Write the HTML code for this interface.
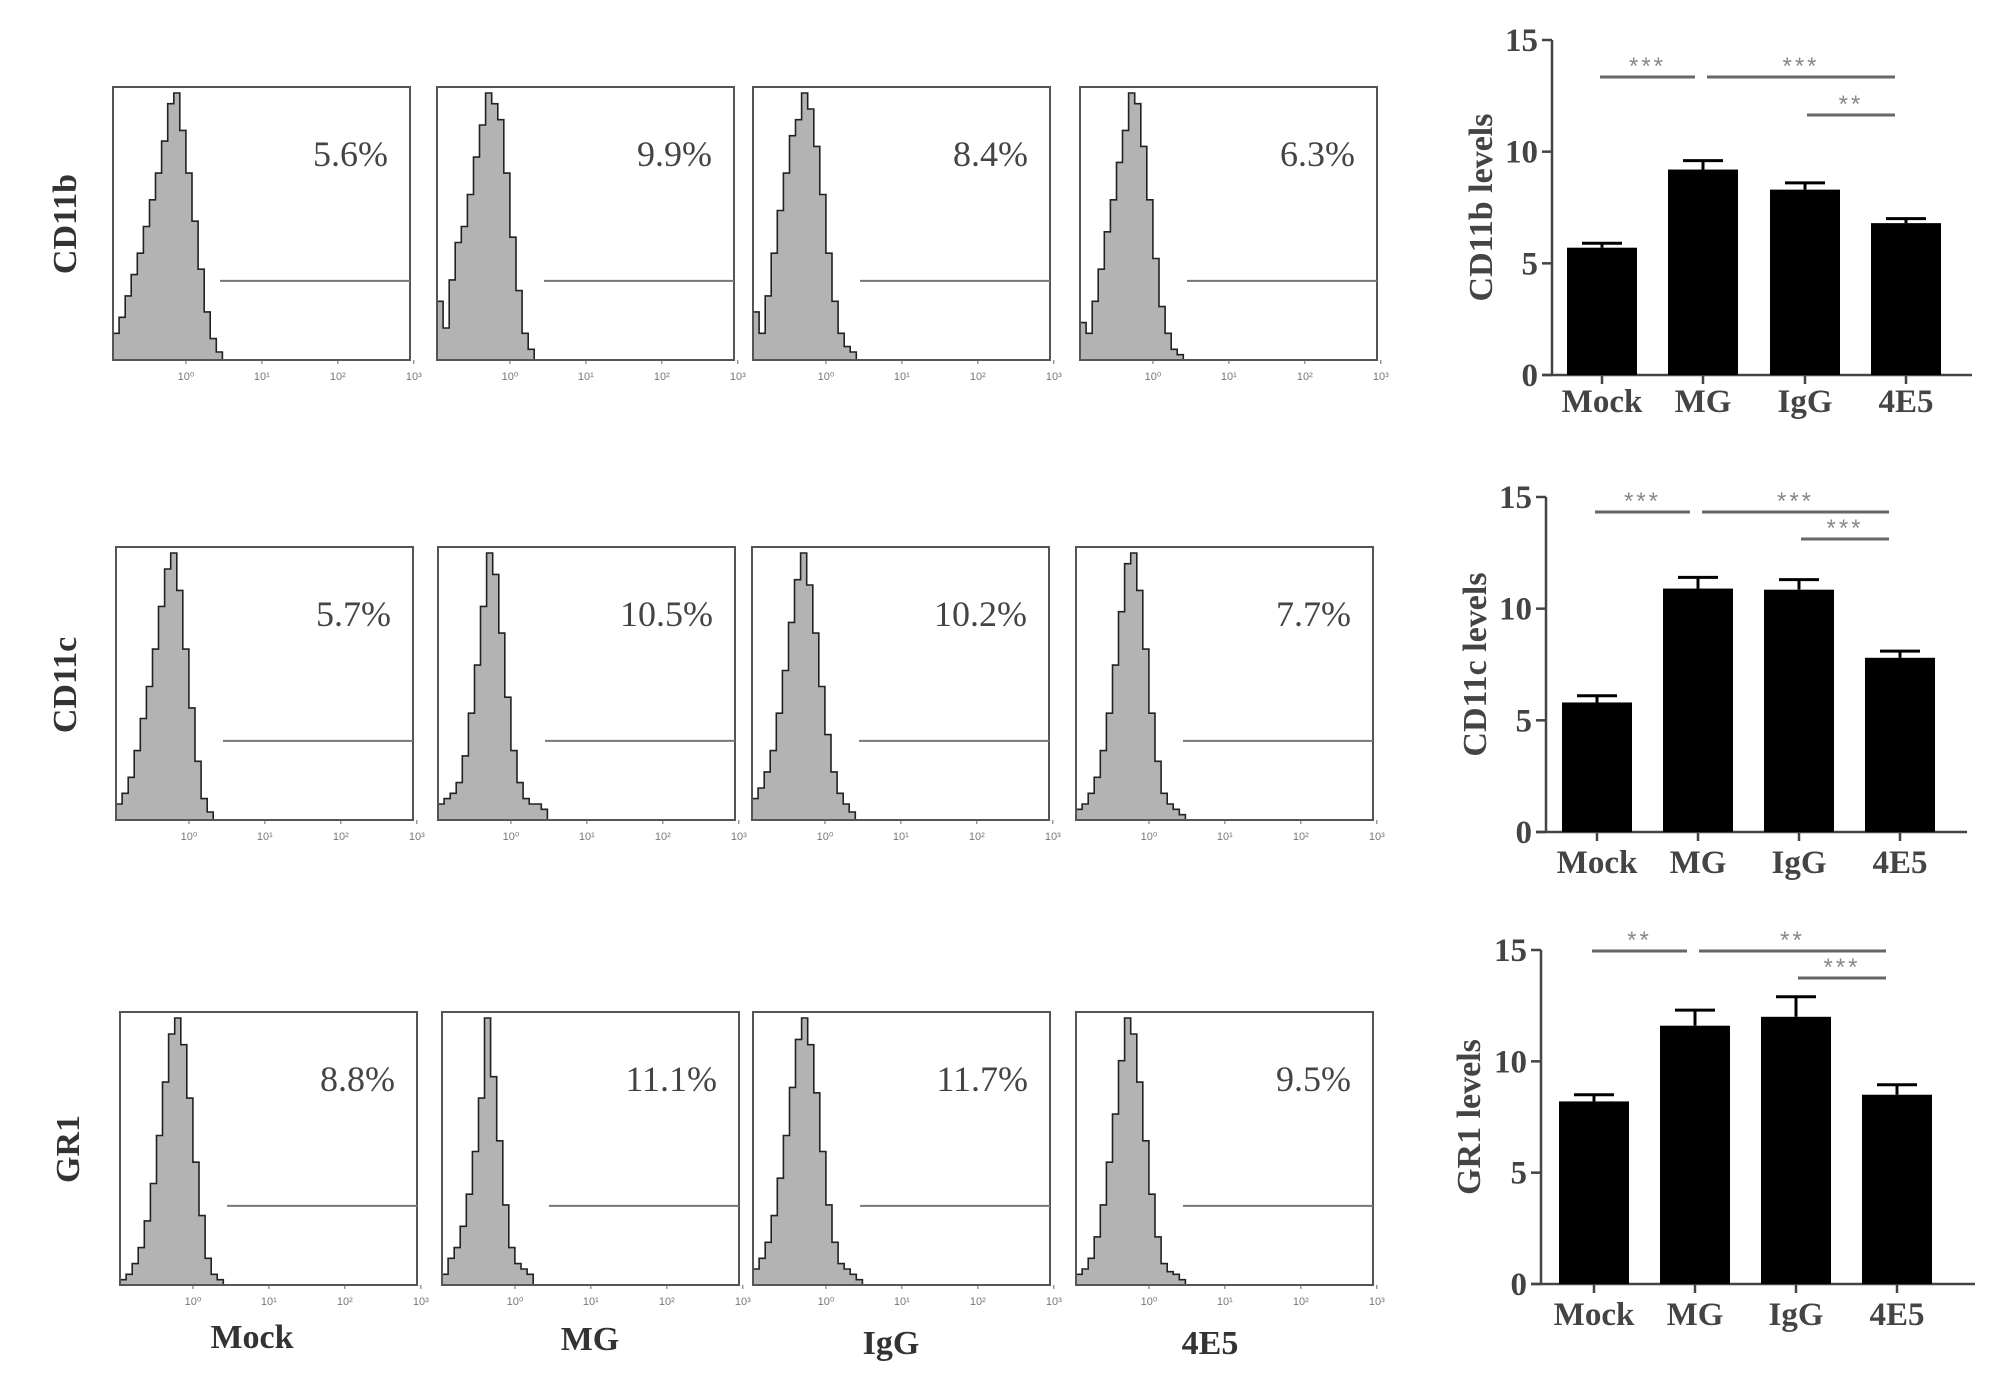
<!DOCTYPE html>
<html><head><meta charset="utf-8"><style>
html,body{margin:0;padding:0;background:#fff;}
svg{display:block;}
.serif{font-family:"Liberation Serif",serif;}
</style></head><body>
<svg id="fig" width="2008" height="1400" viewBox="0 0 2008 1400" xmlns="http://www.w3.org/2000/svg">
<g id="hist"></g>
<g id="bars"></g>
<g class="serif" font-weight="bold" fill="#333" font-size="34">
<text transform="translate(76,224) rotate(-90)" text-anchor="middle">CD11b</text>
<text transform="translate(76,685) rotate(-90)" text-anchor="middle">CD11c</text>
<text transform="translate(79,1149) rotate(-90)" text-anchor="middle">GR1</text>
</g>
<g class="serif" font-weight="bold" fill="#333" font-size="34" text-anchor="middle">
<text x="252" y="1348">Mock</text>
<text x="590" y="1350">MG</text>
<text x="891" y="1354">IgG</text>
<text x="1210" y="1354">4E5</text>
</g>
</svg>
<script>
// ---------- histogram data ----------
const histPercents = [["5.6%","9.9%","8.4%","6.3%"],["5.7%","10.5%","10.2%","7.7%"],["8.8%","11.1%","11.7%","9.5%"]];
// bin heights (% of box height), bins of 0.08 decade starting at log10 = -0.96
const histRow1 = [
 [10,16,24,32,40,50,60,70,82,96,100,86,70,52,34,18,8,3],
 [22,12,30,44,50,62,76,88,100,96,90,70,46,26,10,4,0,0],
 [18,10,24,40,56,70,84,90,100,94,80,62,40,22,10,5,3,0],
 [14,10,22,34,48,60,74,86,100,96,80,60,38,20,10,4,2,0]];
const histRow2 = [
 [6,10,16,26,38,50,64,80,94,100,86,64,42,22,8,3,0,0],
 [6,8,10,14,24,40,58,80,100,92,70,46,26,14,8,6,6,4],
 [8,12,18,26,40,56,74,90,100,88,70,50,32,18,10,6,3,0],
 [4,6,10,16,26,40,58,78,96,100,86,64,40,22,10,6,4,2]];
const histRow3 = [
 [2,4,8,14,24,38,56,76,94,100,90,70,46,26,10,4,2,0],
 [4,10,14,22,34,50,70,100,78,54,30,14,8,6,4,0,0,0],
 [6,10,16,26,40,56,74,92,100,90,72,50,30,16,8,6,4,2],
 [4,6,10,18,30,46,64,84,100,94,76,54,34,18,8,5,4,2]];
const histRows = [histRow1, histRow2, histRow3];
const tickLabels = ["10\u2070","10\u00b9","10\u00b2","10\u00b3"];
// ---------- bar data ----------
const categories = ["Mock","MG","IgG","4E5"];
const cd11bMean = [5.7, 9.2, 8.3, 6.8];
const cd11bErr  = [0.2, 0.4, 0.3, 0.2];
const cd11cMean = [5.8, 10.9, 10.85, 7.8];
const cd11cErr  = [0.3, 0.5, 0.45, 0.3];
const gr1Mean   = [8.2, 11.6, 12.0, 8.5];
const gr1Err    = [0.3, 0.7, 0.9, 0.45];
const yTicks = [0, 5, 10, 15];
const sigCd11b = ["***","***","**"];
const sigCd11c = ["***","***","***"];
const sigGr1   = ["**","**","***"];

const NS="http://www.w3.org/2000/svg";
function mk(tag, attrs, parent){const e=document.createElementNS(NS,tag);for(const k in attrs)e.setAttribute(k,attrs[k]);parent.appendChild(e);return e;}

// ---------- histograms ----------
const hist=document.getElementById('hist');
const boxLefts=[[113,437,753,1080],[116,438,752,1076],[120,442,753,1076]];
const boxTops=[87,547,1012];
const BW=297, BH=273, LOGMIN=-0.96, LOGMAX=2.95, BIN=0.08;
for(let r=0;r<3;r++){
 for(let c=0;c<4;c++){
  const x0=boxLefts[r][c], y0=boxTops[r];
  const g=mk('g',{},hist);
  
  
  const xs=v=>x0+(v-LOGMIN)/(LOGMAX-LOGMIN)*BW;
  const ys=v=>y0+BH-v/100*(BH-6);
  const bins=histRows[r][c];
  let d='M'+x0+','+(y0+BH);
  bins.forEach((v,i)=>{const a=xs(LOGMIN+i*BIN),b=xs(LOGMIN+(i+1)*BIN);d+=' L'+a.toFixed(1)+','+ys(v).toFixed(1)+' L'+b.toFixed(1)+','+ys(v).toFixed(1);});
  d+=' L'+xs(LOGMIN+bins.length*BIN).toFixed(1)+','+(y0+BH)+' Z';
  const p=mk('path',{d:d,fill:'#b3b3b3',stroke:'#222','stroke-width':'1.6'},g);
  
  
  const box=mk('rect',{x:x0,y:y0,width:BW,height:BH,fill:'none',stroke:'#555','stroke-width':'2'},g);
  
  
  const gate=mk('line',{x1:x0+107,x2:x0+BW,y1:y0+BH*0.71,y2:y0+BH*0.71,stroke:'#777','stroke-width':'2'},g);
  
  
  tickLabels.forEach((t,i)=>{
   const tx=xs(i);
   const tk=mk('line',{x1:tx,x2:tx,y1:y0+BH,y2:y0+BH+4,stroke:'#666','stroke-width':'1'},g);
   
   
   const tl=mk('text',{x:tx,y:y0+BH+20,'font-size':'11','fill':'#777','text-anchor':'middle','font-family':'Liberation Sans, sans-serif'},g);
   tl.textContent=t;
   
   
  });
  const pt=mk('text',{x:x0+BW-22,y:y0+79,'font-size':'36','fill':'#444','text-anchor':'end','font-family':'Liberation Serif, serif'},g);
  pt.textContent=histPercents[r][c];
  
  
 }
}

// ---------- bar charts ----------
const barsG=document.getElementById('bars');
const charts=[
 {name:'cd11b',title:'CD11b levels',mean:cd11bMean,err:cd11bErr,sig:sigCd11b,ax:1552,y15:40,y0:375,bl:[1567,1668,1770,1871],xend:1972,s1:77,s2:115,lab:412,tx:1480},
 {name:'cd11c',title:'CD11c levels',mean:cd11cMean,err:cd11cErr,sig:sigCd11c,ax:1546,y15:497,y0:832,bl:[1562,1663,1764,1865],xend:1967,s1:512,s2:539,lab:873,tx:1474},
 {name:'gr1',title:'GR1 levels',mean:gr1Mean,err:gr1Err,sig:sigGr1,ax:1541,y15:950,y0:1284,bl:[1559,1660,1761,1862],xend:1975,s1:951,s2:978,lab:1325,tx:1468}];
const BARW=70;
charts.forEach(ch=>{
 const g=mk('g',{},barsG);
 
 
 const y=v=>ch.y0-(v/15)*(ch.y0-ch.y15);
 const yl=mk('line',{x1:ch.ax,x2:ch.ax,y1:ch.y15,y2:ch.y0,stroke:'#444','stroke-width':'2.5'},g);
 
 
 const xl=mk('line',{x1:ch.ax-10,x2:ch.xend,y1:ch.y0,y2:ch.y0,stroke:'#444','stroke-width':'2.5'},g);
 
 
 yTicks.forEach(t=>{
  const tk=mk('line',{x1:ch.ax-10,x2:ch.ax,y1:y(t),y2:y(t),stroke:'#444','stroke-width':'2.5'},g);
  
  
  const tl=mk('text',{x:ch.ax-14,y:y(t)+11,'font-size':'33','font-weight':'bold','fill':'#444','text-anchor':'end','font-family':'Liberation Serif, serif'},g);
  tl.textContent=t;
  
  
 });
 const tt=mk('text',{transform:'translate('+(ch.tx+12)+','+((ch.y15+ch.y0)/2)+') rotate(-90)','font-size':'34','font-weight':'bold','fill':'#444','text-anchor':'middle','font-family':'Liberation Serif, serif'},g);
 tt.textContent=ch.title;
 
 
 const cx=[];
 categories.forEach((c,i)=>{
  const x=ch.bl[i], m=ch.mean[i], e=ch.err[i], xc=x+BARW/2; cx.push(xc);
  const eb=mk('line',{x1:xc,x2:xc,y1:y(m),y2:y(m+e),stroke:'#000','stroke-width':'3'},g);
  
  
  const cap=mk('line',{x1:xc-20,x2:xc+20,y1:y(m+e),y2:y(m+e),stroke:'#000','stroke-width':'3'},g);
  
  
  const b=mk('rect',{x:x,y:y(m),width:BARW,height:ch.y0-y(m),fill:'#000'},g);
  
  
  const tk=mk('line',{x1:xc,x2:xc,y1:ch.y0,y2:ch.y0+9,stroke:'#444','stroke-width':'2.5'},g);
  
  
  const lb=mk('text',{x:xc,y:ch.lab,'font-size':'33','font-weight':'bold','fill':'#444','text-anchor':'middle','font-family':'Liberation Serif, serif'},g);
  lb.textContent=c;
  
  
 });
 const brackets=[[cx[0]-2,cx[1]-8,ch.s1],[cx[1]+4,cx[3]-11,ch.s1],[cx[2]+2,cx[3]-11,ch.s2]];
 brackets.forEach((bk,i)=>{
  const l=mk('line',{x1:bk[0],x2:bk[1],y1:bk[2],y2:bk[2],stroke:'#666','stroke-width':'3'},g);
  
  
  const s=mk('text',{x:(bk[0]+bk[1])/2,y:bk[2]-3,'font-size':'24','fill':'#888','text-anchor':'middle','letter-spacing':'3','font-family':'Liberation Sans, sans-serif'},g);
  s.textContent=ch.sig[i];
  
  
 });
});
</script>
</body></html>
